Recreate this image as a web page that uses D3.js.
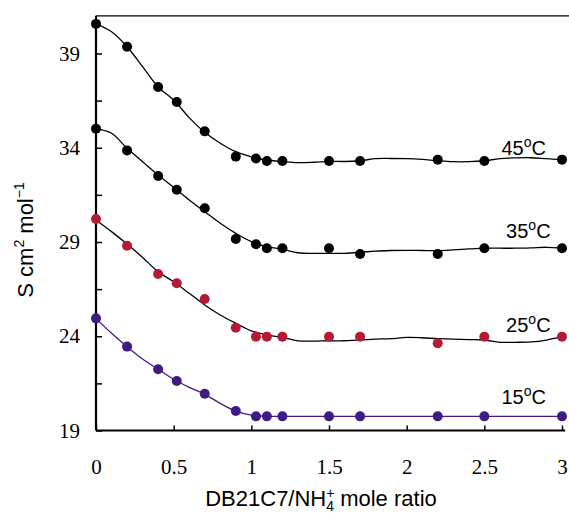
<!DOCTYPE html>
<html>
<head>
<meta charset="utf-8">
<script src="https://cdn.jsdelivr.net/npm/d3@7"></script>
<style>
  body { margin: 0; background: #fff; }
  svg { display: block; }
</style>
</head>
<body>
<svg id="chart" width="569" height="520"></svg>
<script>
// measured points (mole ratio on x)
const ratio = [0, 0.2, 0.4, 0.52, 0.7, 0.9, 1.03, 1.1, 1.2, 1.5, 1.7, 2.2, 2.5, 3.0];
const t45 = [40.57, 39.36, 37.22, 36.43, 34.87, 33.53, 33.43, 33.3, 33.3, 33.3, 33.3, 33.37, 33.3, 33.37];
const t35 = [35.01, 33.86, 32.5, 31.77, 30.79, 29.16, 28.88, 28.67, 28.67, 28.67, 28.36, 28.36, 28.67, 28.67];
const t25 = [30.22, 28.8, 27.3, 26.81, 25.98, 24.45, 23.98, 23.98, 23.98, 23.98, 23.98, 23.63, 23.98, 23.98];
const t15 = [24.95, 23.45, 22.25, 21.63, 20.95, 20.03, 19.75, 19.75, 19.75, 19.75, 19.75, 19.75, 19.75, 19.75];

const fitX = [0, 0.1, 0.2, 0.3, 0.4, 0.5, 0.6, 0.7, 0.8, 0.9, 1.0, 1.1, 1.2, 1.3, 1.4, 1.5,
  1.6, 1.7, 1.8, 1.9, 2.0, 2.1, 2.2, 2.3, 2.4, 2.5, 2.6, 2.7, 2.8, 2.9, 3.0];
const fit45 = [40.57, 40.15, 39.36, 38.3, 37.22, 36.53, 35.6, 34.82, 34.24, 33.79, 33.52, 33.35, 33.27, 33.21, 33.23, 33.28,
  33.27, 33.31, 33.42, 33.43, 33.42, 33.38, 33.31, 33.26, 33.26, 33.31, 33.42, 33.46, 33.47, 33.42, 33.37];
const fit35 = [35.0, 34.77, 33.97, 33.26, 32.55, 31.9, 31.23, 30.61, 29.99, 29.46, 29.02, 28.75, 28.62, 28.43, 28.4, 28.4,
  28.4, 28.45, 28.52, 28.55, 28.56, 28.55, 28.54, 28.58, 28.63, 28.67, 28.67, 28.67, 28.69, 28.72, 28.67];
const fit25 = [30.17, 29.55, 28.89, 28.18, 27.42, 26.89, 26.28, 25.66, 25.13, 24.69, 24.29, 24.07, 23.94, 23.76, 23.74, 23.76,
  23.76, 23.8, 23.85, 23.87, 23.94, 23.92, 23.87, 23.85, 23.82, 23.8, 23.68, 23.68, 23.7, 23.8, 23.98];
const fit15 = [24.95, 24.16, 23.45, 22.79, 22.25, 21.72, 21.29, 20.92, 20.44, 20.03, 19.82, 19.75, 19.75, 19.75, 19.75, 19.75,
  19.75, 19.75, 19.75, 19.75, 19.75, 19.75, 19.75, 19.75, 19.75, 19.75, 19.75, 19.75, 19.75, 19.75, 19.75];

const temps = ["45", "35", "25", "15"];
const xTicks = [0, 0.5, 1, 1.5, 2, 2.5, 3];
const yTicks = [19, 21.5, 24, 26.5, 29, 31.5, 34, 36.5, 39];
const yLabelled = [19, 24, 29, 34, 39];

const dotclr = ["#000", "#000", "#b31b34", "#3e1c84"];
const lineclr = ["#000", "#000", "#000", "#3e1c84"];
const pts = [t45, t35, t25, t15];
const fits = [fit45, fit35, fit25, fit15];
// where each temperature label sits: [x start, y value of baseline]
const labelPos = [[2.61, 33.6], [2.64, 29.2], [2.64, 24.2], [2.61, 20.4]];

const svg = d3.select("#chart");
const x = d3.scaleLinear().domain([0, 3]).range([96, 562]);
const y = d3.scaleLinear().domain([19, 39]).range([430.5, 53.5]);

// top frame line
svg.append("line")
  .attr("x1", x(0)).attr("x2", 569)
  .attr("y1", y(41)).attr("y2", y(41))
  .attr("stroke", "#000").attr("stroke-width", 1.3);

// x axis
const gx = svg.append("g").attr("transform", `translate(0,${y(19)})`)
  .call(d3.axisBottom(x).tickValues(xTicks).tickSizeInner(-5).tickSizeOuter(0).tickPadding(29)
    .tickFormat(d => d3.format("")(d)));
gx.select(".domain").attr("d", `M${x(0)},0H${x(3.02)}`).attr("stroke-width", 2);
gx.selectAll(".tick line").attr("stroke-width", 1.5);
gx.selectAll("text").attr("font-family", "Liberation Serif").attr("font-size", 21).attr("fill", "#000");

// y axis
const gy = svg.append("g").attr("transform", `translate(${x(0)},0)`)
  .call(d3.axisLeft(y).tickValues(yTicks).tickSizeInner(-6).tickSizeOuter(0).tickPadding(16)
    .tickFormat(d => yLabelled.includes(d) ? d : ""));
gy.select(".domain").attr("d", `M0,${y(41)}V${y(19)}`).attr("stroke-width", 2.2);
gy.selectAll(".tick line").attr("stroke-width", 1.5);
gy.selectAll("text").attr("font-family", "Liberation Serif").attr("font-size", 21).attr("fill", "#000");

// curves
const line = d3.line().x(d => x(d[0])).y(d => y(d[1])).curve(d3.curveCatmullRom);
fits.forEach((f, i) => {
  svg.append("path")
    .attr("d", line(fitX.map((v, j) => [v, f[j]])))
    .attr("fill", "none")
    .attr("stroke", lineclr[i])
    .attr("stroke-width", 1.3);
});

// dots
pts.forEach((p, i) => {
  svg.append("g").selectAll("circle")
    .data(ratio.map((v, j) => [v, p[j]]))
    .join("circle")
    .attr("cx", d => x(d[0]))
    .attr("cy", d => y(d[1]))
    .attr("r", 5)
    .attr("fill", dotclr[i]);
});

// temperature labels
temps.forEach((t, i) => {
  const txt = svg.append("text")
    .attr("x", x(labelPos[i][0]))
    .attr("y", y(labelPos[i][1]))
    .attr("font-family", "Liberation Sans")
    .attr("font-size", 20)
    .attr("fill", "#000");
  txt.append("tspan").text(t);
  txt.append("tspan").attr("font-size", 14).attr("dy", -8).text("o");
  txt.append("tspan").attr("dy", 8).text("C");
});

// axis titles
const xt = svg.append("text")
  .attr("x", 321).attr("y", 506)
  .attr("text-anchor", "middle")
  .attr("font-family", "Liberation Sans")
  .attr("font-size", 22)
  .attr("fill", "#000");
xt.append("tspan").text("DB21C7/NH");
xt.append("tspan").attr("font-size", 14).attr("dy", -8).text("+");
xt.append("tspan").attr("font-size", 14).attr("dx", -8.2).attr("dy", 13).text("4");
xt.append("tspan").attr("dy", -5).text(" mole ratio");

const yt = svg.append("text")
  .attr("transform", "translate(33,240) rotate(-90)")
  .attr("text-anchor", "middle")
  .attr("font-family", "Liberation Sans")
  .attr("font-size", 22)
  .attr("fill", "#000");
yt.append("tspan").text("S cm");
yt.append("tspan").attr("font-size", 14).attr("dy", -9).text("2");
yt.append("tspan").attr("dy", 9).text(" mol");
yt.append("tspan").attr("font-size", 14).attr("dy", -9).text("\u22121");
</script>
</body>
</html>
